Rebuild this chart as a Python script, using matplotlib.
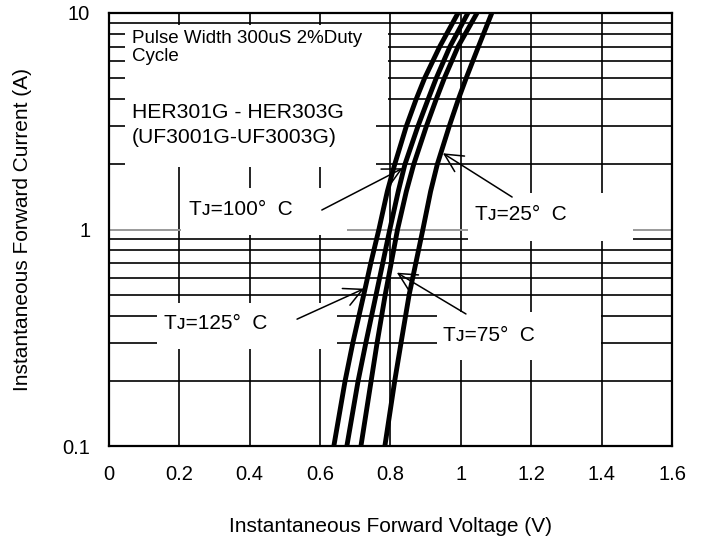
import matplotlib
matplotlib.use("Agg")
import matplotlib.pyplot as plt
from matplotlib.patches import Rectangle
from matplotlib.ticker import LogLocator, NullFormatter

plt.rcParams['font.family'] = ['Liberation Sans', 'DejaVu Sans']

# forward current (A) and forward voltage (V)
current = [0.1, 0.2, 0.3, 0.5, 0.7, 1, 1.5, 2, 3, 4, 5, 7, 10]
v_125 = [0.639, 0.671, 0.693, 0.724, 0.744, 0.767, 0.791, 0.812, 0.845, 0.873, 0.897, 0.940, 0.992]
v_100 = [0.676, 0.708, 0.730, 0.759, 0.778, 0.798, 0.822, 0.841, 0.878, 0.907, 0.930, 0.969, 1.020]
v_75 = [0.716, 0.745, 0.762, 0.785, 0.802, 0.820, 0.845, 0.866, 0.902, 0.930, 0.953, 0.992, 1.046]
v_25 = [0.784, 0.812, 0.830, 0.853, 0.872, 0.892, 0.914, 0.933, 0.967, 0.993, 1.015, 1.050, 1.088]

x_ticks = [0, 0.2, 0.4, 0.6, 0.8, 1.0, 1.2, 1.4, 1.6]
x_labels = ['0', '0.2', '0.4', '0.6', '0.8', '1', '1.2', '1.4', '1.6']
y_ticks = [0.1, 1, 10]
y_labels = ['0.1', '1', '10']

fig = plt.figure(figsize=(7.05, 5.39), dpi=100)
ax = fig.add_axes([0.1546, 0.1725, 0.7986, 0.8034])

ax.set_yscale('log')
ax.set_xlim(0, 1.6)
ax.set_ylim(0.1, 10)
ax.set_xticks(x_ticks, x_labels)
ax.set_yticks(y_ticks, y_labels)
ax.yaxis.set_minor_locator(LogLocator(base=10, subs=range(2, 10)))
ax.yaxis.set_minor_formatter(NullFormatter())
ax.tick_params(which='both', length=0, labelsize=14.5, pad=13.5)

# grid: black, except the gray line at 1 A
ax.set_axisbelow(True)
ax.xaxis.grid(True, color='black', lw=1.2)
ax.yaxis.grid(True, which='minor', color='black', lw=1.2)
ax.yaxis.grid(True, which='major', color='#9a9a9a', lw=1.4)
for s in ax.spines.values():
    s.set_linewidth(1.6)

# white panels behind the annotations (axes fraction)
panels = [(0.0284, 0.7714, 0.4672, 0.2009),
          (0.0284, 0.6443, 0.4458, 0.1271),
          (0.1279, 0.4873, 0.2948, 0.1085),
          (0.6377, 0.4734, 0.2930, 0.1109),
          (0.0853, 0.2240, 0.3197, 0.1063),
          (0.5826, 0.1986, 0.2913, 0.1109)]
for x0, y0, w, h in panels:
    ax.add_patch(Rectangle((x0, y0), w, h, transform=ax.transAxes,
                           facecolor='white', edgecolor='none', zorder=1))

for v in [v_125, v_100, v_75, v_25]:
    ax.plot(v, current, color='black', lw=3.5, solid_capstyle='butt', zorder=3)

ax.text(0.041, 0.960, 'Pulse Width 300uS 2%Duty\nCycle', transform=ax.transAxes,
        fontsize=13.5, va='top', ha='left', linespacing=1.02, zorder=4)
ax.text(0.041, 0.792, 'HER301G - HER303G\n(UF3001G-UF3003G)', transform=ax.transAxes,
        fontsize=15.2, va='top', ha='left', linespacing=1.38, zorder=4)

labels = [('T\u1d0a=100\u00b0  C', (0.2336, 0.5335), (0.378, 0.545), (0.835, 1.92)),
          ('T\u1d0a=25\u00b0  C', (0.731, 0.522), (0.716, 0.575), (0.949, 2.25)),
          ('T\u1d0a=125\u00b0  C', (0.189, 0.270), (0.334, 0.293), (0.725, 0.533)),
          ('T\u1d0a=75\u00b0  C', (0.675, 0.2425), (0.634, 0.305), (0.818, 0.632))]
for txt, pos, start, tip in labels:
    ax.text(pos[0], pos[1], txt, transform=ax.transAxes, fontsize=15,
            ha='center', va='baseline', zorder=4)
    ax.annotate('', xy=tip, xycoords='data', xytext=start, textcoords='axes fraction',
                arrowprops=dict(arrowstyle='->,head_length=0.65,head_width=0.33',
                                color='black', lw=1.1, shrinkA=0, shrinkB=0,
                                mutation_scale=20), zorder=4)

ax.set_xlabel('Instantaneous Forward Voltage (V)', fontsize=15)
ax.set_ylabel('Instantaneous Forward Current (A)', fontsize=15)
ax.xaxis.set_label_coords(0.5, -0.164)
ax.yaxis.set_label_coords(-0.137, 0.5)

fig.savefig('out.png', dpi=100)
